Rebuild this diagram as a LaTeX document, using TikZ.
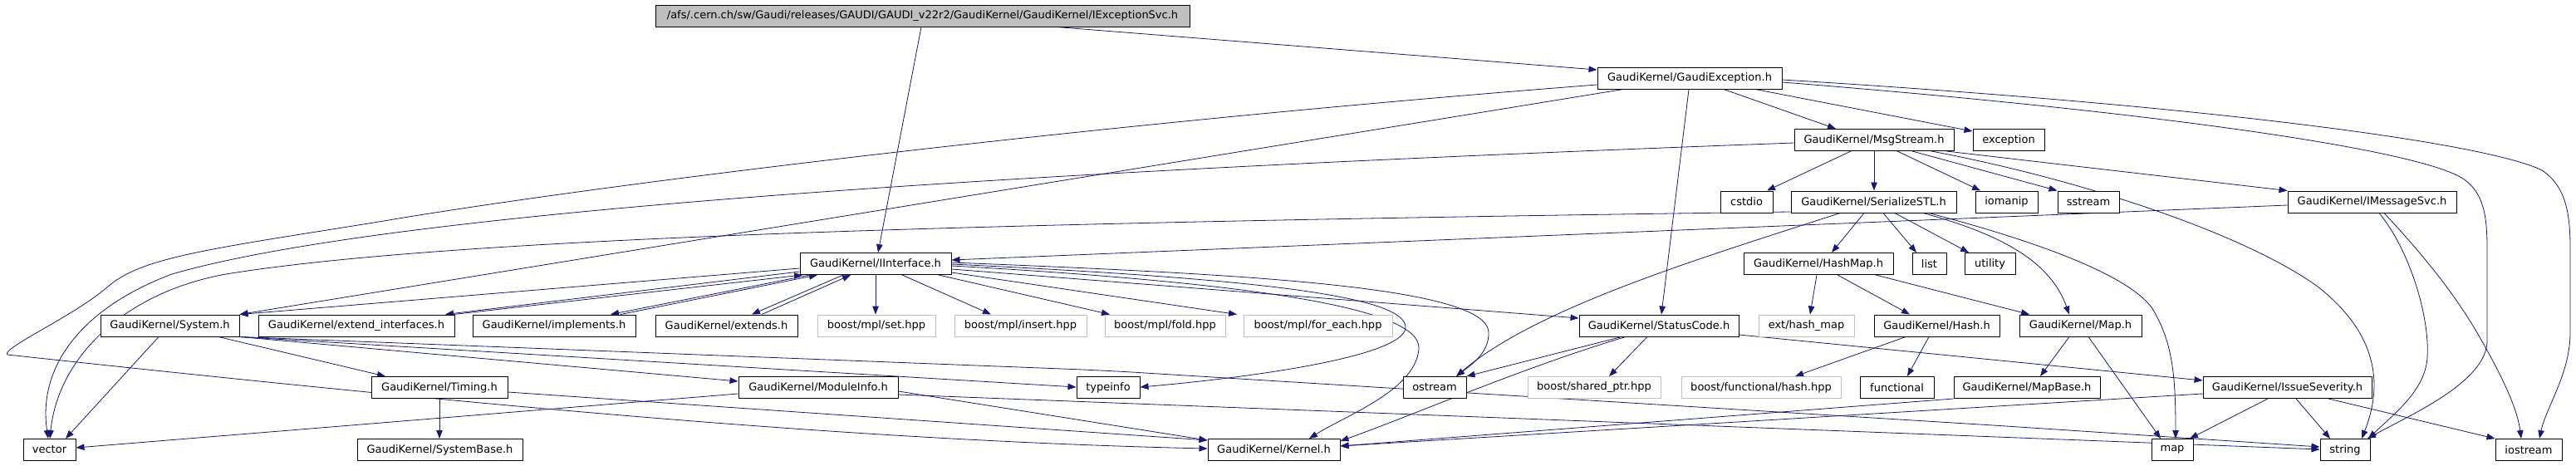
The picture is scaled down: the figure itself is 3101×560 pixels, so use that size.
\documentclass[tikz,border=0pt]{standalone}
\usepackage{fontspec}
\setmainfont{DejaVu Sans}
\usetikzlibrary{arrows.meta}
\pgfdeclarelayer{bg}
\pgfsetlayers{bg,main}
\definecolor{edgec}{HTML}{191970}
\definecolor{greyc}{HTML}{BFBFBF}
\tikzset{
  box/.style={draw=black, fill=white, line width=1pt, minimum height=26pt, inner sep=0pt, font=\fontsize{13}{15}\selectfont},
  ext/.style={draw=greyc},
  rootbox/.style={fill=greyc},
  dep/.style={draw=edgec, line width=0.8pt, -{Triangle[length=10pt,width=7.5pt]}}
}
\newcommand{\bx}[6][]{\node[box,#1,minimum width={(#4-#3)*1pt}] (#2) at ({(#3+#4)/2},#5) {#6};}
\begin{document}
\begin{tikzpicture}[x=1pt,y=-1pt]
\useasboundingbox (0,0) rectangle (3101,560);
% row 0
\bx[rootbox]{root}{789}{1432}{19}{/afs/.cern.ch/sw/Gaudi/releases/GAUDI/GAUDI\_v22r2/GaudiKernel/GaudiKernel/IExceptionSvc.h}
% row 1
\bx{gexc}{1923}{2145}{94}{GaudiKernel/GaudiException.h}
% row 2
\bx{msg}{2160}{2352}{168.5}{GaudiKernel/MsgStream.h}
\bx{exc}{2375}{2461}{168.5}{exception}
% row 3
\bx{cstdio}{2071}{2134}{243}{cstdio}
\bx{ser}{2156}{2355}{243}{GaudiKernel/SerializeSTL.h}
\bx{iomanip}{2378}{2453}{243}{iomanip}
\bx{sstream}{2477}{2551}{243}{sstream}
\bx{imsg}{2754}{2957}{243}{GaudiKernel/IMessageSvc.h}
% row 4
\bx{iif}{963}{1145}{317.5}{GaudiKernel/IInterface.h}
\bx{hashmap}{2099}{2279}{317.5}{GaudiKernel/HashMap.h}
\bx{list}{2302}{2343}{317.5}{list}
\bx{utility}{2365}{2426}{317.5}{utility}
% row 5
\bx{sys}{121}{288}{392}{GaudiKernel/System.h}
\bx{extif}{311}{547}{392}{GaudiKernel/extend\_interfaces.h}
\bx{impl}{569}{765}{392}{GaudiKernel/implements.h}
\bx{extends}{789}{960}{392}{GaudiKernel/extends.h}
\bx[ext]{set}{984}{1126}{392}{boost/mpl/set.hpp}
\bx[ext]{insert}{1149}{1308}{392}{boost/mpl/insert.hpp}
\bx[ext]{fold}{1330}{1475}{392}{boost/mpl/fold.hpp}
\bx[ext]{foreach}{1497}{1676}{392}{boost/mpl/for\_each.hpp}
\bx{status}{1901}{2093}{392}{GaudiKernel/StatusCode.h}
\bx[ext]{extmap}{2117}{2232}{392}{ext/hash\_map}
\bx{hash}{2256}{2407}{392}{GaudiKernel/Hash.h}
\bx{maph}{2431}{2578}{392}{GaudiKernel/Map.h}
% row 6
\bx{timing}{447}{611}{466.5}{GaudiKernel/Timing.h}
\bx{modinfo}{889}{1081}{466.5}{GaudiKernel/ModuleInfo.h}
\bx{typeinfo}{1296}{1372}{466.5}{typeinfo}
\bx{ostream}{1689}{1765}{466.5}{ostream}
\bx[ext]{sharedptr}{1839}{1999}{466.5}{boost/shared\_ptr.hpp}
\bx[ext]{fhash}{2024}{2216}{466.5}{boost/functional/hash.hpp}
\bx{functional}{2239}{2328}{466.5}{functional}
\bx{mapbase}{2352}{2528}{466.5}{GaudiKernel/MapBase.h}
\bx{issue}{2652}{2855}{466.5}{GaudiKernel/IssueSeverity.h}
% row 7
\bx{vector}{28}{91}{541.5}{vector}
\bx{sysbase}{430}{629}{541.5}{GaudiKernel/SystemBase.h}
\bx{kernel}{1454}{1613}{541.5}{GaudiKernel/Kernel.h}
\bx{map}{2590}{2640}{541.5}{map}
\bx{string}{2793}{2853}{541.5}{string}
\bx{iostream}{3004}{3084}{541.5}{iostream}

\begin{pgfonlayer}{bg}
% IExceptionSvc
\draw[dep] (1109,0 |- root.south) -- (1057,0 |- iif.north);
\draw[dep] (1272,0 |- root.south) -- (gexc.west |- 0,84);
% GaudiException
\draw[dep] (2075,0 |- gexc.south) -- (2210,0 |- msg.north);
\draw[dep] (2113,0 |- gexc.south) -- (exc.west |- 0,158);
\draw[dep] (2033,0 |- gexc.south) -- (2000,0 |- status.north);
\draw[dep] (gexc.east |- 0,99) .. controls (2600,135) and (2910,180) .. (2965,215) .. controls (2990,232) and (2994,260) .. (2994,300) -- (2994,410) .. controls (2994,460) and (2900,500) .. (2850,0 |- string.north);
\draw[dep] (gexc.east |- 0,96) .. controls (2700,130) and (3000,175) .. (3060,205) .. controls (3090,225) and (3094,260) .. (3094,300) -- (3094,400) .. controls (3094,450) and (3065,490) .. (3057,0 |- iostream.north);
\draw[dep] (1954,0 |- gexc.south) -- (sys.north east);
\draw[dep] (gexc.west |- 0,102) .. controls (1300,150) and (700,225) .. (450,268) .. controls (250,300) and (170,310) .. (130,345) .. controls (90,380) and (0,420) .. (9,427) .. controls (500,480) and (1000,530) .. (kernel.west |- 0,540);
% MsgStream
\draw[dep] (msg.west |- 0,172) .. controls (1400,200) and (500,245) .. (207,330) .. controls (100,370) and (45,440) .. (58,0 |- vector.north);
\draw[dep] (2228,0 |- msg.south) -- (2127,0 |- cstdio.north);
\draw[dep] (2256,0 |- msg.south) -- (2256,0 |- ser.north);
\draw[dep] (2284,0 |- msg.south) -- (2384,0 |- iomanip.north);
\draw[dep] (2302,0 |- msg.south) -- (sstream.north west);
\draw[dep] (2343,0 |- msg.south) -- (imsg.north west);
\draw[dep] (2325,0 |- msg.south) .. controls (2500,215) and (2700,280) .. (2790,345) .. controls (2860,400) and (2870,460) .. (2843,0 |- string.north);
% SerializeSTL
\draw[dep] (ser.west |- 0,255) .. controls (1200,268) and (550,285) .. (272,330) .. controls (150,352) and (70,430) .. (60,0 |- vector.north);
\draw[dep] (2244,0 |- ser.south) -- (2205,0 |- hashmap.north);
\draw[dep] (2267,0 |- ser.south) -- (2307,0 |- list.north);
\draw[dep] (2281,0 |- ser.south) -- (2370,0 |- utility.north);
\draw[dep] (2315,0 |- ser.south) .. controls (2420,285) and (2470,320) .. (2491,0 |- maph.north);
\draw[dep] (2322,0 |- ser.south) .. controls (2450,290) and (2560,330) .. (2590,370) .. controls (2615,410) and (2619,450) .. (2619,0 |- map.north);
\draw[dep] (2215,0 |- ser.south) .. controls (2050,310) and (1850,370) .. (1753,0 |- ostream.north);
% IMessageSvc
\draw[dep] (imsg.west |- 0,247) -- (iif.east |- 0,313);
\draw[dep] (2864,0 |- imsg.south) .. controls (2900,300) and (2925,380) .. (2922,430) .. controls (2920,470) and (2880,500) .. (2851,0 |- string.north);
\draw[dep] (2870,0 |- imsg.south) .. controls (2920,310) and (2960,360) .. (2989,413) .. controls (3010,450) and (3030,490) .. (3035,0 |- iostream.north);
% HashMap, Hash, Map
\draw[dep] (2187,0 |- hashmap.south) -- (2179,0 |- extmap.north);
\draw[dep] (2212,0 |- hashmap.south) -- (2299,0 |- hash.north);
\draw[dep] (2258,0 |- hashmap.south) -- (2443,0 |- maph.north);
\draw[dep] (2294,0 |- hash.south) -- (2161,0 |- fhash.north);
\draw[dep] (2322,0 |- hash.south) -- (2296,0 |- functional.north);
\draw[dep] (2491,0 |- maph.south) -- (2456,0 |- mapbase.north);
\draw[dep] (2514,0 |- maph.south) -- (2601,0 |- map.north);
\draw[dep] (mapbase.south west) -- (kernel.east |- 0,537);
% IssueSeverity
\draw[dep] (issue.west |- 0,474) -- (kernel.east |- 0,537);
\draw[dep] (2730,0 |- issue.south) -- (2636,0 |- map.north);
\draw[dep] (2764,0 |- issue.south) -- (2805,0 |- string.north);
\draw[dep] (2803,0 |- issue.south) -- (iostream.north west);
% StatusCode
\draw[dep] (1952,0 |- status.south) -- (ostream.north east);
\draw[dep] (1983,0 |- status.south) -- (1937,0 |- sharedptr.north);
\draw[dep] (1957,0 |- status.south) .. controls (1840,440) and (1700,500) .. (kernel.east |- 0,531);
\draw[dep] (status.east |- 0,403) -- (issue.west |- 0,458);
% IInterface
\draw[dep] (iif.west |- 0,323) -- (sys.north east);
\draw[dep] (iif.west |- 0,327) -- (536,0 |- extif.north);
\draw[dep] (546,0 |- extif.north) -- (966,0 |- iif.south);
\draw[dep] (975,0 |- iif.south) -- (735,0 |- impl.north);
\draw[dep] (747,0 |- impl.north) -- (984,0 |- iif.south);
\draw[dep] (1015,0 |- iif.south) -- (905,0 |- extends.north);
\draw[dep] (917,0 |- extends.north) -- (1024,0 |- iif.south);
\draw[dep] (1054,0 |- iif.south) -- (1054,0 |- set.north);
\draw[dep] (1086,0 |- iif.south) -- (1193,0 |- insert.north);
\draw[dep] (1130,0 |- iif.south) -- (1336,0 |- fold.north);
\draw[dep] (iif.east |- 0,328) -- (1489,0 |- foreach.north);
\draw[dep] (iif.east |- 0,324) -- (status.west |- 0,383);
\draw[dep] (iif.east |- 0,316) .. controls (1500,330) and (1790,345) .. (1792,400) .. controls (1793,425) and (1770,440) .. (1753,0 |- ostream.north);
\draw[dep] (iif.east |- 0,318) .. controls (1500,335) and (1695,355) .. (1692,395) .. controls (1688,430) and (1500,455) .. (typeinfo.east |- 0,466);
\draw[dep] (iif.east |- 0,320) .. controls (1500,340) and (1712,370) .. (1708,420) .. controls (1704,470) and (1620,500) .. (1576,0 |- kernel.north);
% System
\draw[dep] (191,0 |- sys.south) -- (79,0 |- vector.north);
\draw[dep] (263,0 |- sys.south) -- (464,0 |- timing.north);
\draw[dep] (sys.south east) -- (modinfo.west |- 0,459);
\draw[dep] (sys.south east) -- (typeinfo.west |- 0,466);
\draw[dep,rounded corners=40pt] (sys.south east) -- (1330,446) -- (2400,512) -- (string.west |- 0,538);
% ModuleInfo
\draw[dep] (modinfo.west |- 0,474) -- (vector.east |- 0,539);
\draw[dep] (modinfo.east |- 0,471) -- (kernel.west |- 0,530);
\draw[dep] (modinfo.east |- 0,475) -- (string.west |- 0,541);
% Timing
\draw[dep] (529,0 |- timing.south) -- (529,0 |- sysbase.north);
\draw[dep] (timing.east |- 0,472) -- (kernel.west |- 0,530);
\end{pgfonlayer}
\end{tikzpicture}
\end{document}
